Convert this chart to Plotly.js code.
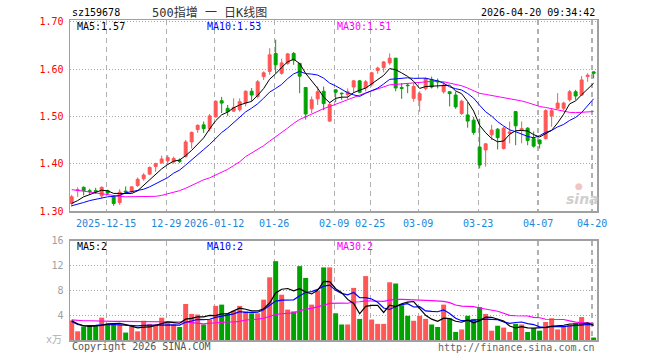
<!DOCTYPE html>
<html>
<head>
<meta charset="utf-8">
<script src="https://cdn.plot.ly/plotly-3.0.1.min.js"></script>
<style>html,body{margin:0;padding:0;background:#fff;}#chart{width:660px;height:360px;}</style>
</head>
<body>
<div id="chart"></div>
<script>
// ---- data ----
const dates = [
"2025-12-05","2025-12-08","2025-12-09","2025-12-10","2025-12-11","2025-12-12",
"2025-12-15","2025-12-16","2025-12-17","2025-12-18","2025-12-19",
"2025-12-22","2025-12-23","2025-12-24","2025-12-25","2025-12-26",
"2025-12-29","2025-12-30","2025-12-31",
"2026-01-05","2026-01-06","2026-01-07","2026-01-08","2026-01-09",
"2026-01-12","2026-01-13","2026-01-14","2026-01-15","2026-01-16",
"2026-01-19","2026-01-20","2026-01-21","2026-01-22","2026-01-23",
"2026-01-26","2026-01-27","2026-01-28","2026-01-29","2026-01-30",
"2026-02-02","2026-02-03","2026-02-04","2026-02-05","2026-02-06",
"2026-02-09","2026-02-10","2026-02-11","2026-02-12","2026-02-13",
"2026-02-24","2026-02-25","2026-02-26","2026-02-27",
"2026-03-02","2026-03-03","2026-03-04","2026-03-05","2026-03-06",
"2026-03-09","2026-03-10","2026-03-11","2026-03-12","2026-03-13",
"2026-03-16","2026-03-17","2026-03-18","2026-03-19","2026-03-20",
"2026-03-23","2026-03-24","2026-03-25","2026-03-26","2026-03-27",
"2026-03-30","2026-03-31","2026-04-01","2026-04-02","2026-04-03",
"2026-04-07","2026-04-08","2026-04-09","2026-04-10",
"2026-04-13","2026-04-14","2026-04-15","2026-04-16","2026-04-17",
"2026-04-20"];

const openP = [1.316,1.343,1.350,1.343,1.343,1.332,1.343,1.330,1.318,1.342,
1.341,1.354,1.368,1.378,1.394,1.402,1.406,1.404,1.407,1.415,
1.446,1.472,1.482,1.474,1.499,1.533,1.517,1.511,1.514,1.528,
1.553,1.542,1.584,1.595,1.633,1.591,1.612,1.633,1.612,1.561,
1.516,1.537,1.553,1.490,1.556,1.549,1.546,1.562,1.575,1.560,
1.568,1.597,1.603,1.613,1.623,1.561,1.566,1.538,1.534,1.559,
1.578,1.575,1.552,1.552,1.545,1.506,1.503,1.492,1.435,1.429,
1.461,1.473,1.432,1.464,1.510,1.470,1.475,1.453,1.450,1.453,
1.501,1.517,1.517,1.535,1.552,1.545,1.584,1.594];
const highP = [1.334,1.350,1.352,1.347,1.349,1.352,1.345,1.334,1.346,1.352,
1.352,1.371,1.380,1.394,1.402,1.417,1.418,1.415,1.411,1.450,
1.468,1.483,1.489,1.505,1.534,1.541,1.524,1.538,1.538,1.555,
1.560,1.577,1.595,1.644,1.662,1.622,1.634,1.636,1.612,1.561,
1.542,1.563,1.563,1.531,1.557,1.550,1.559,1.577,1.577,1.577,
1.594,1.605,1.617,1.633,1.623,1.570,1.570,1.570,1.553,1.582,
1.584,1.580,1.573,1.553,1.552,1.535,1.530,1.499,1.495,1.443,
1.482,1.475,1.478,1.489,1.511,1.489,1.477,1.468,1.451,1.515,
1.517,1.549,1.531,1.556,1.556,1.585,1.591,1.594];
const lowP = [1.309,1.330,1.333,1.334,1.336,1.327,1.335,1.311,1.313,1.336,
1.338,1.351,1.364,1.376,1.383,1.400,1.398,1.400,1.401,1.413,
1.432,1.465,1.465,1.468,1.497,1.507,1.501,1.510,1.510,1.521,
1.532,1.538,1.577,1.588,1.591,1.588,1.609,1.609,1.549,1.493,
1.507,1.524,1.513,1.488,1.530,1.535,1.537,1.549,1.549,1.553,
1.563,1.590,1.593,1.609,1.553,1.537,1.549,1.531,1.510,1.555,
1.559,1.559,1.548,1.521,1.516,1.503,1.476,1.461,1.390,1.394,
1.450,1.430,1.430,1.443,1.439,1.443,1.439,1.434,1.432,1.451,
1.478,1.516,1.513,1.531,1.535,1.544,1.573,1.580];
const closeP = [1.330,1.345,1.343,1.341,1.341,1.350,1.338,1.316,1.340,1.340,
1.351,1.367,1.376,1.392,1.400,1.410,1.413,1.411,1.405,1.446,
1.466,1.481,1.474,1.501,1.532,1.528,1.510,1.519,1.531,1.553,
1.545,1.573,1.592,1.630,1.609,1.613,1.632,1.619,1.585,1.505,
1.535,1.552,1.527,1.525,1.551,1.548,1.552,1.575,1.551,1.573,
1.592,1.602,1.615,1.623,1.560,1.559,1.565,1.563,1.548,1.580,
1.562,1.573,1.566,1.548,1.520,1.532,1.490,1.466,1.397,1.442,
1.471,1.455,1.475,1.467,1.480,1.474,1.449,1.437,1.442,1.512,
1.512,1.528,1.528,1.552,1.543,1.577,1.587,1.591];
const volume = [3.15,1.4,2.2,2.3,2.3,3.6,2.6,2.5,2.5,1.2,
2.2,1.4,3.1,2.6,2.5,3.6,2.8,2.5,2.1,5.8,
4.2,4.1,2.5,3.3,5.5,5.7,4.3,4.7,5.5,4.6,
4.3,4.3,6.5,10.1,12.7,7.3,4.9,4.6,11.9,10.0,
5.7,7.9,11.7,11.7,4.3,2.5,2.5,8.4,3.4,10.3,
3.3,2.6,2.6,9.3,9.1,5.6,3.9,3.1,3.9,3.4,
2.5,2.1,5.7,3.5,1.3,1.7,3.9,3.4,5.3,4.2,
1.5,2.3,2.0,1.3,2.6,2.5,1.3,1.9,1.5,2.9,
3.5,1.7,2.3,2.5,2.7,3.7,2.6,0.4];

const priceMa5Early = [1.316,1.322,1.330,1.335];
const priceMa10Early = [1.311,1.314,1.318,1.322,1.325,1.327,1.330,1.331,1.333];
const priceMa30Early = [1.345,1.344,1.342,1.340,1.338,1.336,1.334,1.332,1.331,1.330,
1.330,1.330,1.330,1.330,1.331,1.333,1.336,1.339,1.343,1.348,
1.354,1.360,1.366,1.370,1.376,1.382,1.388,1.396,1.404];
const volMa5Early = [3.1,2.6,2.3,2.2];
const volMa10Early = [3.0,2.5,2.3,2.3,2.35,2.45,2.5,2.5,2.45];
const volMa30Early = [3.25,3.15,3.1,3.1,3.05,3.05,3.0,3.0,3.0,3.0,
3.0,2.95,2.95,2.95,2.95,2.95,2.95,2.95,2.95,2.9,
2.8,2.7,2.6,2.7,2.8,2.85,2.9,2.9,3.0];

const tickDates = ["2025-12-15","2025-12-29","2026-01-12","2026-01-26","2026-02-09",
"2026-02-25","2026-03-09","2026-03-23","2026-04-07","2026-04-20"];
const tickLabels = ["2025-12-15","12-29","2026-01-12","01-26","02-09",
"02-25","03-09","03-23","04-07","04-20"];
const priceTicks = [1.30,1.40,1.50,1.60,1.70];
const volTicks = [4,8,12,16];

const titleCode = "sz159678";
const titleName = "500指增 一 日K线图";
const timeStamp = "2026-04-20 09:34:42";
const maPriceLabels = ["MA5:1.57","MA10:1.53","MA30:1.51"];
const maVolLabels = ["MA5:2","MA10:2","MA30:2"];

// ---- helpers ----
function movingAvg(arr, n, early){
  return arr.map((v,i)=>{
    if(i < n-1) return early[i];
    let s = 0; for(let k=i-n+1;k<=i;k++) s += arr[k];
    return s/n;
  });
}
const xs = dates.map((d,i)=>i);
const tickPos = tickDates.map(d=>dates.indexOf(d)-0.25);

const RED = "#ff5656", GREEN = "#00a200";
const BLUE_T = "#1a86dc";
const MONO = "DejaVu Sans Mono, Liberation Mono, monospace";
const CJK = "DejaVu Sans Mono, Noto Sans CJK SC, sans-serif";

const W = 660, H = 360, ML = 70, MR = 63, MT = 20, MB = 20;
const PW = W-ML-MR, PH = H-MT-MB;
const px = x => (x-ML)/PW;
const py = y => (H-MB-y)/PH;

const mainBottom = 211, volTop = 240.7;

const traces = [
  {type:'candlestick', x:xs, open:openP, high:highP, low:lowP, close:closeP,
   increasing:{line:{color:RED,width:1}, fillcolor:RED},
   decreasing:{line:{color:GREEN,width:1}, fillcolor:GREEN},
   xaxis:'x', yaxis:'y', hoverinfo:'none'},
  {type:'scatter', mode:'lines', x:xs, y:movingAvg(closeP,30,priceMa30Early), line:{color:'#ff00ff',width:1}, xaxis:'x', yaxis:'y', hoverinfo:'none'},
  {type:'scatter', mode:'lines', x:xs, y:movingAvg(closeP,10,priceMa10Early), line:{color:'#0000ff',width:1}, xaxis:'x', yaxis:'y', hoverinfo:'none'},
  {type:'scatter', mode:'lines', x:xs, y:movingAvg(closeP,5,priceMa5Early), line:{color:'#000000',width:1}, xaxis:'x', yaxis:'y', hoverinfo:'none'},
  {type:'bar', x:xs, y:volume, marker:{color:closeP.map((c,i)=> c>=openP[i]?RED:GREEN), line:{width:0}},
   xaxis:'x2', yaxis:'y2', hoverinfo:'none'},
  {type:'scatter', mode:'lines', x:xs, y:movingAvg(volume,30,volMa30Early), line:{color:'#ff00ff',width:1.2}, xaxis:'x2', yaxis:'y2', hoverinfo:'none'},
  {type:'scatter', mode:'lines', x:xs, y:movingAvg(volume,10,volMa10Early), line:{color:'#0000ff',width:1.2}, xaxis:'x2', yaxis:'y2', hoverinfo:'none'},
  {type:'scatter', mode:'lines', x:xs, y:movingAvg(volume,5,volMa5Early), line:{color:'#000000',width:1.2}, xaxis:'x2', yaxis:'y2', hoverinfo:'none'}
];

const xRange = [-0.28, 87.56];
const frame = {showline:true, mirror:true, linecolor:'#a0a0a0', linewidth:1.5, zeroline:false};

const ann = (text, x, y, xanchor, color, size, family, extra) => Object.assign({
  text, x:px(x), y:py(y), xref:'paper', yref:'paper', xanchor, yanchor:'middle',
  showarrow:false, font:{family:family||MONO, size:size||10, color}}, extra||{});

const layout = {
  width:W, height:H, margin:{l:ML,r:MR,t:MT,b:MB,pad:0},
  paper_bgcolor:'#fff', plot_bgcolor:'#fff', showlegend:false, bargap:0.17,
  xaxis:Object.assign({}, frame, {domain:[0,1], anchor:'y', range:xRange, type:'linear',
    tickmode:'array', tickvals:tickPos, ticktext:tickLabels, ticks:'',
    tickfont:{family:MONO,size:10,color:BLUE_T}, ticklabelstandoff:2,
    showgrid:true, gridcolor:'#b0b0b0', gridwidth:1.3, griddash:'5px,4px',
    rangeslider:{visible:false}, fixedrange:true}),
  yaxis:Object.assign({}, frame, {domain:[py(mainBottom),1], anchor:'x', range:[1.30,1.7036],
    tickmode:'array', tickvals:priceTicks, ticktext:priceTicks.map(v=>v.toFixed(2)), ticks:'',
    tickfont:{family:MONO,size:10,color:'#ff0000'}, ticklabelstandoff:3,
    showgrid:true, gridcolor:'#a8a8a8', gridwidth:1, griddash:'1px,2px', fixedrange:true}),
  xaxis2:Object.assign({}, frame, {domain:[0,1], anchor:'y2', range:xRange, type:'linear',
    tickmode:'array', tickvals:tickPos, showticklabels:false, ticks:'',
    showgrid:true, gridcolor:'#b0b0b0', gridwidth:1.3, griddash:'5px,4px', fixedrange:true}),
  yaxis2:Object.assign({}, frame, {domain:[0,py(volTop)], anchor:'x2', range:[0,16],
    tickmode:'array', tickvals:volTicks, ticktext:volTicks.map(String), ticks:'',
    tickfont:{family:MONO,size:10,color:'#a0a0a0'}, ticklabelstandoff:3,
    showgrid:true, gridcolor:'#a8a8a8', gridwidth:1, griddash:'1px,2px', fixedrange:true}),
  annotations:[
    ann(titleCode, 70, 12.5, 'left', '#000'),
    ann(titleName, 209, 12.5, 'center', '#333', 12, CJK),
    ann(timeStamp, 597, 12.5, 'right', '#000'),
    ann(maPriceLabels[0], 75, 26.5, 'left', '#000'),
    ann(maPriceLabels[1], 205, 26.5, 'left', '#0000ff'),
    ann(maPriceLabels[2], 335, 26.5, 'left', '#ff00ff'),
    ann(maVolLabels[0], 75, 246.5, 'left', '#000'),
    ann(maVolLabels[1], 205, 246.5, 'left', '#0000ff'),
    ann(maVolLabels[2], 335, 246.5, 'left', '#ff00ff'),
    ann("x万", 64, 339, 'right', '#b0b0b0', 10, CJK),
    ann("Copyright 2026 SINA.COM", 70, 346.5, 'left', '#555'),
    ann("http://finance.sina.com.cn", 597, 347, 'right', '#666'),
    ann("sina", 582, 199, 'center', '#cfcfcf', 14, 'DejaVu Sans, sans-serif', {font:{family:'DejaVu Sans, sans-serif', size:14, color:'#cfcfcf', style:'italic', weight:'bold'}}),
    ann("●", 579, 186, 'center', '#f2c4c4', 9, 'DejaVu Sans, sans-serif')
  ]
};

Plotly.newPlot('chart', traces, layout, {staticPlot:true, displayModeBar:false});
</script>
</body>
</html>
